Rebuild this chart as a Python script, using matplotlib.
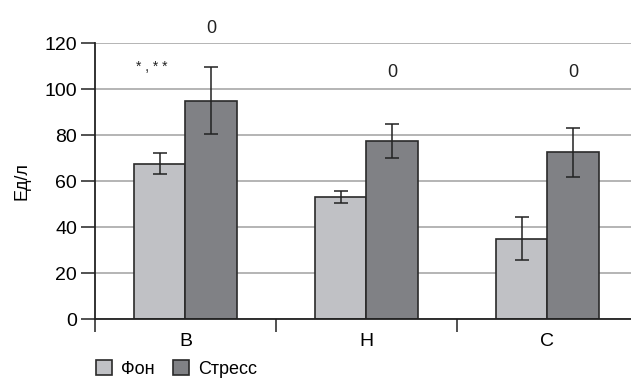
import matplotlib.pyplot as plt
import numpy as np

plt.rcParams['font.family'] = ['Liberation Sans Narrow', 'Liberation Sans', 'DejaVu Sans']

groups = ['В', 'Н', 'С']
fon = [67.5, 53, 35]
fon_err = [4.5, 2.7, 9.5]
stress = [95, 77.3, 72.5]
stress_err = [14.7, 7.5, 10.7]
marks_stress = ['0', '0', '0']
marks_y = [126.5, 107, 107]

x = np.arange(len(groups))
w = 0.287

fig = plt.figure(figsize=(6.31, 3.81), dpi=100)
ax = fig.add_axes([95 / 631, 62 / 381, 543 / 631, 276 / 381])

ax.set_axisbelow(True)
ax.yaxis.grid(True, color='#a8a8a8', linewidth=1.2)

ekw = dict(ecolor='#222222', elinewidth=1.1, capsize=5, capthick=1.1)
ax.bar(x - w / 2, fon, w, yerr=fon_err, color='#c0c1c5', edgecolor='#2a2a2a',
       linewidth=1.2, error_kw=ekw, label='Фон')
ax.bar(x + w / 2, stress, w, yerr=stress_err, color='#808185', edgecolor='#2a2a2a',
       linewidth=1.2, error_kw=ekw, label='Стресс')

for xi, m, my in zip(x, marks_stress, marks_y):
    ax.text(xi + w / 2, my, m, ha='center', va='center', fontsize=13, color='#222222',
            clip_on=False)
ax.text(-0.185, 109.5, '* , * *', ha='center', va='center', fontsize=10, color='#222222')

ax.set_xlim(-0.5, 2.5)
ax.set_ylim(0, 120)
ax.set_yticks(range(0, 121, 20))
ax.set_xticks([-0.5, 0.5, 1.5, 2.5])
ax.set_xticklabels([])
ax.set_xticks(x, minor=True)
ax.set_xticklabels(groups, minor=True, fontsize=14)
ax.tick_params(axis='x', which='minor', length=0, pad=10)
ax.tick_params(axis='x', which='major', length=9, width=1.2, color='#333333', direction='out')
ax.tick_params(axis='y', length=10, width=1.2, color='#333333', labelsize=14, pad=3)

for s in ['top', 'right']:
    ax.spines[s].set_visible(False)
ax.spines['left'].set_color('#222222')
ax.spines['left'].set_linewidth(1.3)
ax.spines['bottom'].set_color('#222222')
ax.spines['bottom'].set_linewidth(1.3)

ax.set_ylabel('Ед/л', fontsize=13, labelpad=10)

ax.legend(loc='center left', bbox_to_anchor=(83 / 631, 12 / 381),
          bbox_transform=fig.transFigure, ncol=2, frameon=False,
          fontsize=13, handlelength=0.9, handleheight=0.9, handletextpad=0.5,
          columnspacing=1.0, borderpad=0.2)

fig.savefig('out.png', dpi=100)
